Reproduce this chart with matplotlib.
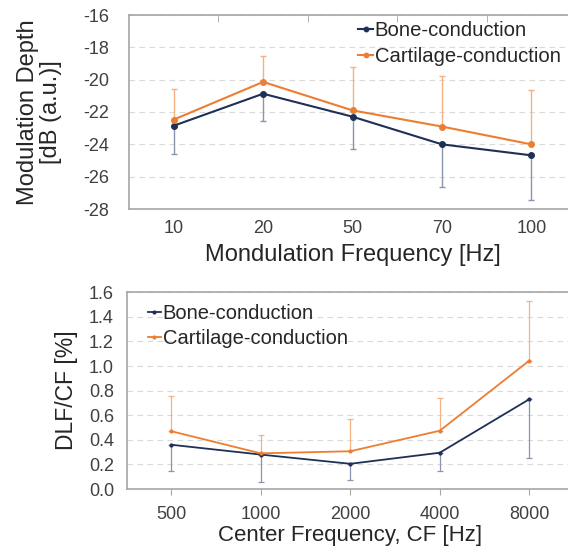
import matplotlib
matplotlib.use("Agg")
import matplotlib.pyplot as plt
import numpy as np

plt.rcParams['font.family'] = ['Liberation Sans', 'DejaVu Sans']
plt.rcParams['axes.unicode_minus'] = False

# Top chart data
mod_freq = ['10', '20', '50', '70', '100']
bone_depth = [-22.85, -20.87, -22.29, -24.0, -24.68]
bone_depth_err = [1.75, 1.70, 2.00, 2.65, 2.74]
cart_depth = [-22.47, -20.14, -21.90, -22.90, -24.0]
cart_depth_err = [1.87, 1.60, 2.67, 3.10, 3.36]

# Bottom chart data
center_freq = ['500', '1000', '2000', '4000', '8000']
bone_dlf = [0.36, 0.28, 0.205, 0.295, 0.73]
bone_dlf_err = [0.216, 0.225, 0.13, 0.15, 0.478]
cart_dlf = [0.47, 0.29, 0.307, 0.474, 1.044]
cart_dlf_err = [0.29, 0.147, 0.26, 0.267, 0.483]

NAVY = '#1f3057'
ORANGE = '#ed7d31'
NAVY_L = '#8a95ad'
ORANGE_L = '#f4b183'
SPINE = '#a6a6a6'
TXT = '#262626'
TICK = '#404040'

W, H = 568, 549
fig = plt.figure(figsize=(W / 100, H / 100), dpi=100)

def style(ax, ypad):
    for s in ['left', 'bottom', 'top', 'right']:
        ax.spines[s].set_color(SPINE)
        ax.spines[s].set_linewidth(1.2)
    ax.tick_params(axis='both', colors=TICK, labelsize=13, length=0)
    ax.tick_params(axis='y', pad=ypad)
    ax.tick_params(axis='x', pad=8)
    ax.yaxis.grid(True, linestyle=(0, (5, 4)), color='#d9d9d9', linewidth=0.8)
    ax.set_axisbelow(True)

# ---- Top chart ----
ax1 = fig.add_axes([129 / W, 1 - 209 / H, 447 / W, 194 / H])
x1 = np.arange(len(mod_freq))
ax1.errorbar(x1, bone_depth, yerr=[bone_depth_err, [0] * 5], fmt='none',
             ecolor=NAVY_L, elinewidth=1.0, capsize=2, capthick=1.0)
ax1.errorbar(x1, cart_depth, yerr=[[0] * 5, cart_depth_err], fmt='none',
             ecolor=ORANGE_L, elinewidth=1.0, capsize=2, capthick=1.0)
ax1.plot(x1, bone_depth, color=NAVY, lw=1.5, marker='o', ms=4, label='Bone-conduction')
ax1.plot(x1, cart_depth, color=ORANGE, lw=1.5, marker='o', ms=4, label='Cartilage-conduction')
style(ax1, 14)
ax1.set_xlim(-0.5, 4.5)
ax1.set_ylim(-28, -16)
ax1.set_yticks(np.arange(-28, -15, 2))
ax1.set_xticks(x1)
ax1.set_xticklabels(mod_freq)
ax1.set_xticks(np.arange(0.5, 4.5, 1), minor=True)
ax1.tick_params(axis='x', which='minor', top=True, bottom=False, direction='in',
                length=5, color=SPINE)
ax1.set_xlabel('Mondulation Frequency [Hz]', fontsize=17, color=TXT, labelpad=5)
ax1.set_ylabel('Modulation Depth\n[dB (a.u.)]', fontsize=17, color=TXT,
               linespacing=1.05)
ax1.yaxis.set_label_coords(-0.150, 0.5)
ax1.legend(loc='upper left', bbox_to_anchor=(0.486, 1.03), frameon=False, fontsize=14.6,
           handlelength=0.7, handletextpad=0.1, borderaxespad=0.2, labelspacing=0.35,
           labelcolor=TXT, markerscale=0.8)

# ---- Bottom chart ----
ax2 = fig.add_axes([126.5 / W, 1 - 489 / H, 447.5 / W, 196.7 / H])
x2 = np.arange(len(center_freq))
ax2.errorbar(x2, bone_dlf, yerr=[bone_dlf_err, [0] * 5], fmt='none',
             ecolor=NAVY_L, elinewidth=0.9, capsize=2, capthick=0.9)
ax2.errorbar(x2, cart_dlf, yerr=[[0] * 5, cart_dlf_err], fmt='none',
             ecolor=ORANGE_L, elinewidth=0.9, capsize=2, capthick=0.9)
ax2.plot(x2, bone_dlf, color=NAVY, lw=1.3, marker='o', ms=2, label='Bone-conduction')
ax2.plot(x2, cart_dlf, color=ORANGE, lw=1.3, marker='o', ms=2, label='Cartilage-conduction')
style(ax2, 9)
ax2.set_xlim(-0.5, 4.5)
ax2.set_ylim(0, 1.6)
ax2.set_yticks(np.arange(0, 1.61, 0.2))
ax2.set_yticklabels([f'{v:.1f}' for v in np.arange(0, 1.61, 0.2)])
ax2.set_xticks(x2)
ax2.set_xticklabels(center_freq)
ax2.tick_params(axis='x', which='major', bottom=True, direction='out', length=4,
                color=SPINE)
ax2.set_xlabel('Center Frequency, CF [Hz]', fontsize=16, color=TXT, labelpad=2)
ax2.set_ylabel('DLF/CF [%]', fontsize=16.5, color=TXT)
ax2.yaxis.set_label_coords(-0.108, 0.5)
ax2.legend(loc='upper left', bbox_to_anchor=(0.022, 1.0), frameon=False, fontsize=14.5,
           handlelength=0.6, handletextpad=0.1, borderaxespad=0.2, labelspacing=0.3,
           labelcolor=TXT)

fig.savefig('out.png', dpi=100)
